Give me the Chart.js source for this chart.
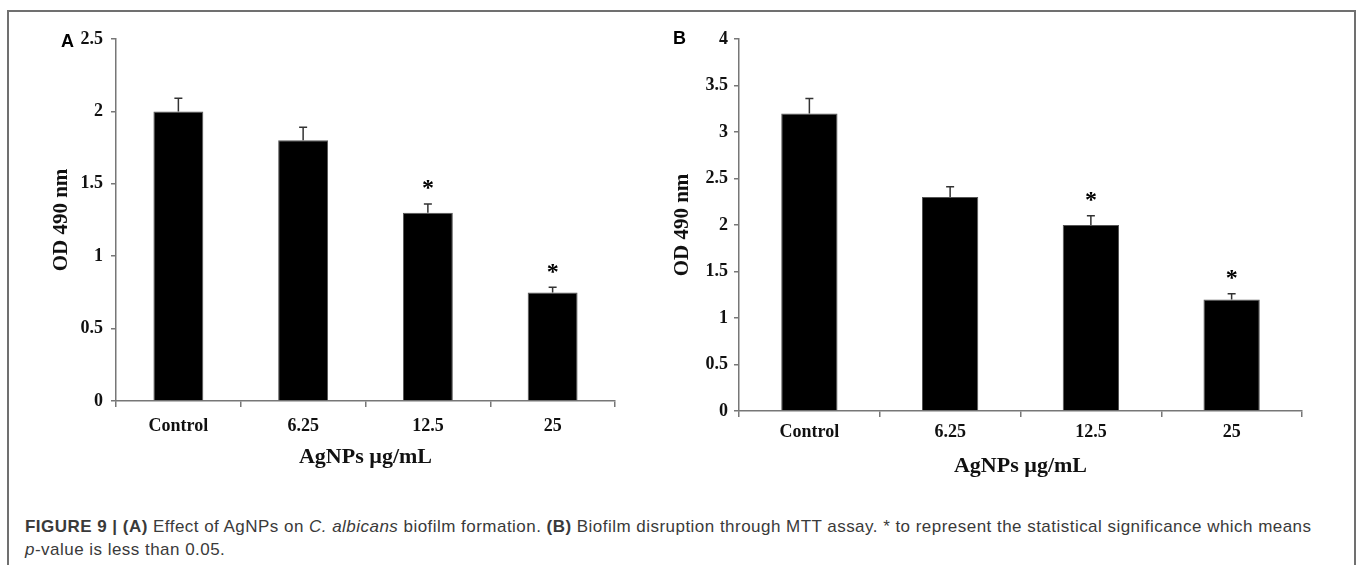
<!DOCTYPE html>
<html>
<head>
<meta charset="utf-8">
<script src="https://cdn.jsdelivr.net/npm/chart.js@4/dist/chart.umd.min.js"></script>
<style>
  body { margin: 0; background: #fff; width: 1358px; height: 565px; overflow: hidden; position: relative; }
  #frame { position: absolute; left: 7px; top: 10px; width: 1345px; height: 570px; border: 2px solid #707070; border-bottom: none; }
  canvas { position: absolute; top: 0; }
  .letter { position: absolute; font: bold 18px "Liberation Sans", Arial, sans-serif; color: #000; }
  #caption { position: absolute; left: 25px; top: 515px; font: 17px "Liberation Sans", Arial, sans-serif; letter-spacing: 0.47px; line-height: 23px; color: #3a3a3a; white-space: nowrap; }
</style>
</head>
<body>
<div id="frame"></div>
<canvas id="chartA" width="680" height="490" style="left:0px"></canvas>
<canvas id="chartB" width="698" height="490" style="left:660px"></canvas>
<div class="letter" style="left:61px;top:31px">A</div>
<div class="letter" style="left:673px;top:28px">B</div>
<div id="caption"><b>FIGURE 9 | (A)</b> Effect of AgNPs on <i>C. albicans</i> biofilm formation. <b>(B)</b> Biofilm disruption through MTT assay. * to represent the statistical significance which means<br><i>p</i>-value is less than 0.05.</div>

<script>
// data
var categories = ['Control', '6.25', '12.5', '25'];

var odA = [2.0, 1.8, 1.3, 0.75];
var errA = [0.09, 0.09, 0.06, 0.035];
var sigA = [false, false, true, true];
var yTicksA = [0, 0.5, 1, 1.5, 2, 2.5];

var odB = [3.2, 2.3, 2.0, 1.2];
var errB = [0.16, 0.11, 0.10, 0.06];
var sigB = [false, false, true, true];
var yTicksB = [0, 0.5, 1, 1.5, 2, 2.5, 3, 3.5, 4];

var axisColor = '#777';
var serif = '"Liberation Serif", "Times New Roman", serif';

// error bars + significance stars drawn from the y scale
var errorBars = {
    id: 'errorBars',
    afterDatasetsDraw: function (chart, args, opts) {
        var ctx = chart.ctx;
        var y = chart.scales.y;
        var meta = chart.getDatasetMeta(0);
        var vals = chart.data.datasets[0].data;
        ctx.save();
        ctx.strokeStyle = '#333';
        ctx.lineWidth = 1.5;
        meta.data.forEach(function (bar, i) {
            var yTop = y.getPixelForValue(vals[i] + opts.errors[i]);
            var yBar = y.getPixelForValue(vals[i]);
            ctx.beginPath();
            ctx.moveTo(bar.x, yBar);
            ctx.lineTo(bar.x, yTop);
            ctx.moveTo(bar.x - 4, yTop);
            ctx.lineTo(bar.x + 4, yTop);
            ctx.stroke();
            if (opts.sig[i]) {
                ctx.fillStyle = '#000';
                ctx.font = 'bold 24px ' + serif;
                ctx.textAlign = 'center';
                ctx.textBaseline = 'middle';
                ctx.fillText('*', bar.x, yTop - 15);
            }
        });
        ctx.restore();
    }
};

function makeChart(id, values, errors, sig, yTicks, yMax, o) {
    return new Chart(document.getElementById(id).getContext('2d'), {
        type: 'bar',
        data: {
            labels: categories,
            datasets: [{
                data: values,
                backgroundColor: '#000',
                borderColor: '#555',
                borderWidth: 1,
                barPercentage: 0.4,
                categoryPercentage: 1.0
            }]
        },
        plugins: [errorBars],
        options: {
            responsive: false,
            animation: false,
            devicePixelRatio: 1,
            layout: { padding: { left: 0, top: 39, right: o.right, bottom: 0 } },
            plugins: {
                legend: { display: false },
                tooltip: { enabled: false },
                errorBars: { errors: errors, sig: sig }
            },
            scales: {
                x: {
                    grid: { offset: true, drawOnChartArea: false, tickLength: 6, color: axisColor, lineWidth: 1.5 },
                    border: { color: axisColor, width: 1.5 },
                    ticks: { color: '#111', padding: o.xPad, font: { family: serif, size: 18, weight: 'bold' } },
                    title: { display: true, text: 'AgNPs µg/mL', color: '#111', padding: { top: 0, bottom: o.xTitlePad }, font: { family: serif, size: 22, weight: 'bold' } },
                    afterFit: function (s) { s.height = o.xHeight; }
                },
                y: {
                    min: 0,
                    max: yMax,
                    afterBuildTicks: function (s) { s.ticks = yTicks.map(function (v) { return { value: v }; }); },
                    grid: { drawOnChartArea: false, tickLength: 5, color: axisColor, lineWidth: 1.5 },
                    border: { color: axisColor, width: 1.5 },
                    ticks: {
                        color: '#111', padding: o.yPad, font: { family: serif, size: 18, weight: 'bold' },
                        callback: function (v) { return String(v); }
                    },
                    title: { display: true, text: 'OD 490 nm', color: '#111', padding: { top: o.yTitlePad, bottom: 0 }, font: { family: serif, size: 21, weight: 'bold' } },
                    afterFit: function (s) { s.width = o.yWidth; }
                }
            }
        }
    });
}

makeChart('chartA', odA, errA, sigA, yTicksA, 2.5,
    { right: 65, yWidth: 116, xHeight: 89, xPad: 9, xTitlePad: 19, yPad: 8, yTitlePad: 49 });
makeChart('chartB', odB, errB, sigB, yTicksB, 4,
    { right: 56, yWidth: 79, xHeight: 79, xPad: 5, xTitlePad: 10, yPad: 6, yTitlePad: 10 });
</script>
</body>
</html>
